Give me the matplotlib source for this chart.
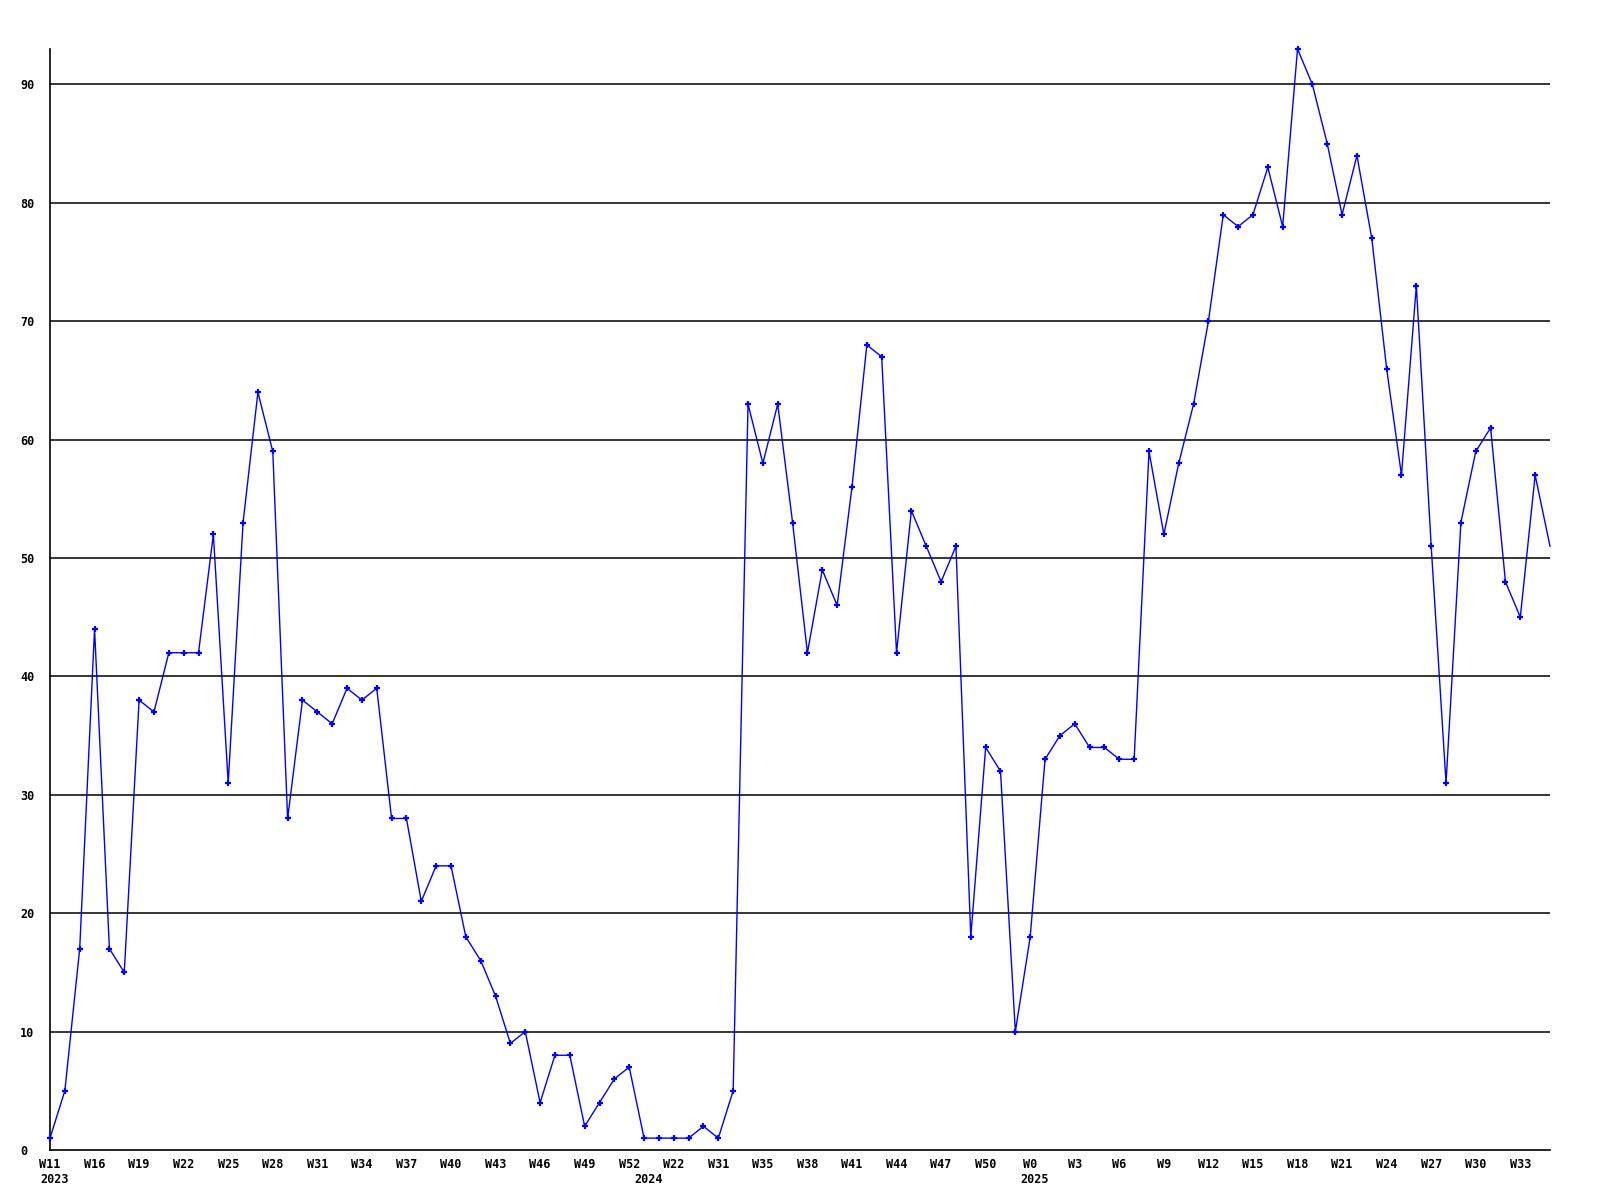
import matplotlib
matplotlib.use("Agg")
import matplotlib.pyplot as plt
import matplotlib.transforms as mtransforms
import numpy as np

BLUE = (0, 0, 1)
FONT = "DejaVu Sans Mono"

# weekly counts, one per week, oldest first
values = [1, 5, 17, 44, 17, 15, 38, 37, 42, 42, 42, 52, 31, 53, 64, 59, 28,
          38, 37, 36, 39, 38, 39, 28, 28, 21, 24, 24, 18, 16, 13, 9, 10, 4,
          8, 8, 2, 4, 6, 7, 1, 1, 1, 1, 2, 1, 5, 63, 58, 63, 53, 42, 49, 46,
          56, 68, 67, 42, 54, 51, 48, 51, 18, 34, 32, 10, 18, 33, 35, 36, 34,
          34, 33, 33, 59, 52, 58, 63, 70, 79, 78, 79, 83, 78, 93, 90, 85, 79,
          84, 77, 66, 57, 73, 51, 31, 53, 59, 61, 48, 45, 57, 51]

week_labels = ["W11", "W16", "W19", "W22", "W25", "W28", "W31", "W34", "W37",
               "W40", "W43", "W46", "W49", "W52", "W22", "W31", "W35", "W38",
               "W41", "W44", "W47", "W50", "W0", "W3", "W6", "W9", "W12",
               "W15", "W18", "W21", "W24", "W27", "W30", "W33"]
label_step = 3

years = ["2023", "2024", "2025"]
year_index = [0, 40, 66]

y_ticks = [0, 10, 20, 30, 40, 50, 60, 70, 80, 90]

fig = plt.figure(figsize=(16, 12), dpi=100)
ax = fig.add_axes([0.03125, 0.0417, 0.9375, 0.9175])

x = np.arange(len(values))
# the last week is still open, it has no marker
ax.plot(x, values, color=BLUE, lw=1.0, marker="+", ms=5, mew=1.6,
        markevery=list(range(len(values) - 1)), clip_on=False, zorder=3)

ax.set_xlim(0, len(values) - 1)
ax.set_ylim(0, max(values))

ax.set_yticks(y_ticks)
ax.set_yticklabels([str(v) for v in y_ticks], fontfamily=FONT,
                   fontweight="bold", fontsize=8.5, ha="left")
for v in y_ticks[1:]:
    ax.axhline(v, color="black", lw=1.1, zorder=1)

ax.set_xticks(x[::label_step][:len(week_labels)])
ax.set_xticklabels(week_labels, fontfamily=FONT, fontweight="bold",
                   fontsize=8.5)
ax.tick_params(axis="both", length=0)
ax.tick_params(axis="y", pad=21.6)
ax.tick_params(axis="x", pad=6)

trans = mtransforms.blended_transform_factory(ax.transData, ax.transAxes)
shift = mtransforms.ScaledTranslation(-10 / 100, 0, fig.dpi_scale_trans)
for yr, i in zip(years, year_index):
    ax.text(i, -0.0209, yr, transform=trans + shift, ha="left", va="top",
            fontfamily=FONT, fontweight="bold", fontsize=8.5)

for side in ["top", "right"]:
    ax.spines[side].set_visible(False)
for side in ["left", "bottom"]:
    ax.spines[side].set_color("black")
    ax.spines[side].set_linewidth(1.2)

fig.savefig("out.png", dpi=100, facecolor="white")
